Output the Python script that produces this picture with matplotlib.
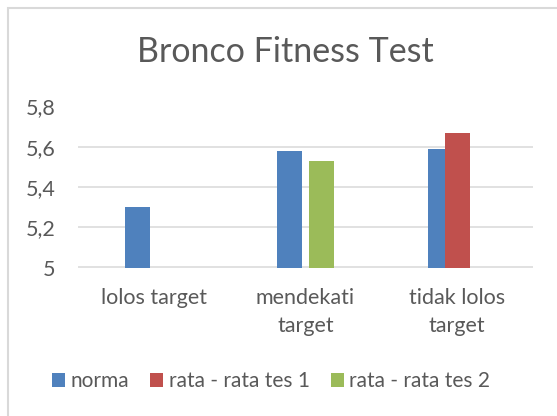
import matplotlib
matplotlib.use("Agg")
import matplotlib.pyplot as plt
import numpy as np
from matplotlib.patches import Rectangle, Patch

plt.rcParams['font.family'] = ['Lato', 'DejaVu Sans']

categories = ["lolos target", "mendekati\ntarget", "tidak lolos\ntarget"]
series_names = ["norma", "rata - rata tes 1", "rata - rata tes 2"]
norma = [5.30, 5.58, 5.59]
tes1 = [np.nan, np.nan, 5.67]
tes2 = [np.nan, 5.53, np.nan]
y_ticks = [5.0, 5.2, 5.4, 5.6, 5.8]
y_tick_labels = ["5", "5,2", "5,4", "5,6", "5,8"]
colors = ["#4F81BD", "#C0504D", "#9BBB59"]
txt = "#595959"
grid = "#D9D9D9"

fig = plt.figure(figsize=(5.57, 4.16), dpi=100)
fig.patch.set_facecolor("white")
ax = fig.add_axes([78/557, (416-267.5)/416, (533-78)/557, (267.5-106.5)/416])

x = np.arange(len(categories))
width = 0.165
offset = 0.1075
for i, (vals, c, name) in enumerate(zip([norma, tes1, tes2], colors, series_names)):
    ax.bar(x + (i - 1) * offset, np.array(vals) - 5.0, bottom=5.0, width=width,
           color=c, label=name, zorder=3 + i)

ax.set_xlim(-0.5, len(categories) - 0.5)
ax.set_ylim(5.0, 5.8)
ax.set_yticks(y_ticks)
ax.set_yticklabels(y_tick_labels)
ax.set_xticks(x)
ax.set_xticklabels(categories, linespacing=1.5)
for s in ax.spines.values():
    s.set_visible(False)
ax.tick_params(axis='both', length=0, labelsize=15.5, labelcolor=txt)
ax.tick_params(axis='y', pad=16)
ax.tick_params(axis='x', pad=15)
ax.yaxis.grid(True, color=grid, linewidth=1.1, zorder=0)
ax.set_axisbelow(True)

fig.text(285/557, (416-52)/416, "Bronco Fitness Test", ha='center', va='center',
         fontsize=24.5, color=txt)

handles = [Patch(facecolor=c, edgecolor='none') for c in colors]
fig.legend(handles, series_names, loc='center', bbox_to_anchor=(271/557, (416-381)/416),
           ncol=3, frameon=False, fontsize=15, labelcolor=txt,
           handlelength=0.65, handleheight=0.65, handletextpad=0.25, columnspacing=1.0)

fig.add_artist(Rectangle((7.5/557, -0.1), 1.2, (416-7.5)/416 + 0.1, transform=fig.transFigure,
                         facecolor='none', edgecolor=grid, linewidth=1.5))

fig.savefig("out.png", dpi=100)
